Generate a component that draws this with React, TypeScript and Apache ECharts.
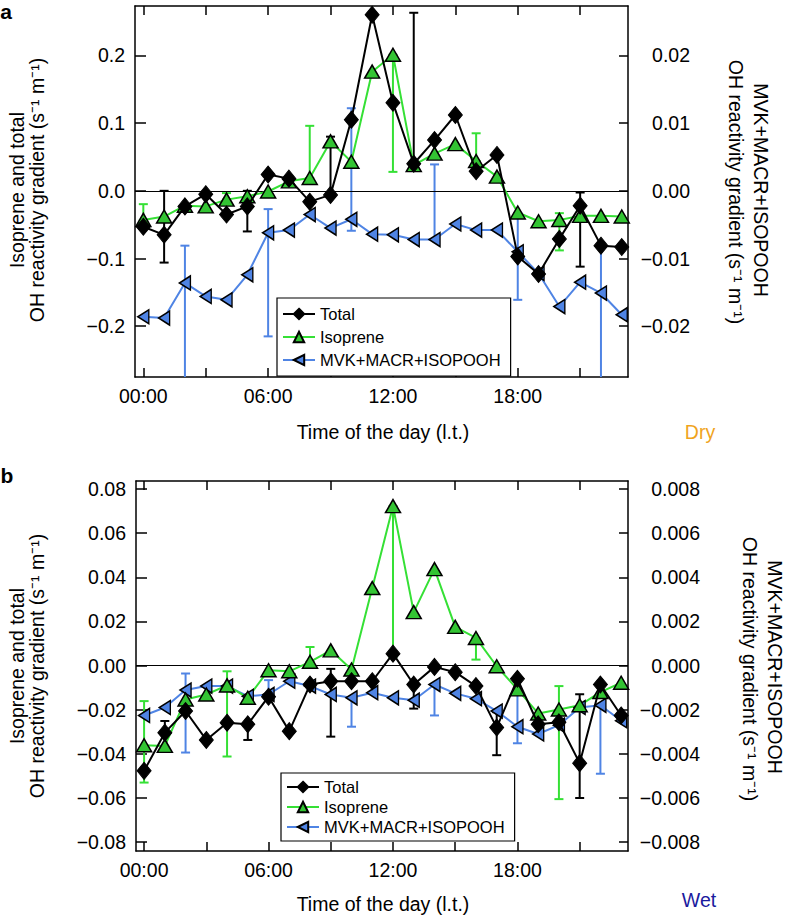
import React, { useEffect, useRef } from "react";
import * as echarts from "echarts";

// ---------- data ----------
const HOURS = [0, 1, 2, 3, 4, 5, 6, 7, 8, 9, 10, 11, 12, 13, 14, 15, 16, 17, 18, 19, 20, 21, 22, 23];
const HOUR_TICKS = [0, 3, 6, 9, 12, 15, 18, 21];
const HOUR_LABELS = [0, 6, 12, 18];

// Panel a (dry)
const A_TOTAL = [-0.053, -0.065, -0.023, -0.005, -0.035, -0.023, 0.024, 0.018, -0.016, -0.006, 0.105, 0.26, 0.13, 0.04, 0.075, 0.112, 0.029, 0.053, -0.097, -0.123, -0.071, -0.022, -0.081, -0.083];
const A_ISOPRENE = [-0.043, -0.038, -0.022, -0.023, -0.013, -0.008, -0.001, 0.014, 0.019, 0.073, 0.043, 0.176, 0.201, 0.038, 0.055, 0.069, 0.044, 0.021, -0.032, -0.045, -0.043, -0.037, -0.037, -0.038];
const A_MVK = [-0.0186, -0.0188, -0.0136, -0.0156, -0.0161, -0.0124, -0.0062, -0.0058, -0.0035, -0.0055, -0.0042, -0.0064, -0.0065, -0.0072, -0.0072, -0.0049, -0.0058, -0.0058, -0.009, -0.0122, -0.0171, -0.0135, -0.0151, -0.0183];
const A_TOTAL_ERR = [[1, -0.106, 0.0], [5, -0.06, 0.0], [9, -0.006, 0.08], [13, 0.04, 0.263], [21, -0.112, -0.0025]];
const A_ISOPRENE_ERR = [[0, -0.043, -0.0197], [4, -0.013, -0.0034], [8, 0.019, 0.096], [12, 0.028, 0.201], [16, 0.044, 0.085], [20, -0.088, -0.033]];
const A_MVK_ERR = [[2, -0.03, -0.0081], [6, -0.0215, -0.0027], [10, -0.0059, 0.0122], [14, -0.0072, 0.0039], [18, -0.0161, -0.0033], [22, -0.03, -0.0084]];
const A_LEFT_TICKS = [-0.2, -0.1, 0, 0.1, 0.2];
const A_RIGHT_TICKS = [-0.02, -0.01, 0, 0.01, 0.02];

// Panel b (wet)
const B_TOTAL = [-0.0477, -0.0304, -0.0206, -0.0337, -0.0259, -0.0266, -0.0141, -0.0297, -0.0086, -0.0071, -0.0071, -0.0071, 0.0054, -0.0086, -0.0006, -0.003, -0.0093, -0.0281, -0.006, -0.0266, -0.0257, -0.0442, -0.0086, -0.0226];
const B_ISOPRENE = [-0.0361, -0.0364, -0.0154, -0.0131, -0.009, -0.0146, -0.0021, -0.0026, 0.0017, 0.0069, -0.0018, 0.0351, 0.0722, 0.0242, 0.0437, 0.0175, 0.0125, -0.0003, -0.0108, -0.0217, -0.0199, -0.018, -0.012, -0.0078];
const B_MVK = [-0.00226, -0.0019, -0.00111, -0.00093, -0.00093, -0.00139, -0.00131, -0.00071, -0.00093, -0.00131, -0.00146, -0.00123, -0.00146, -0.00157, -0.00086, -0.00126, -0.0015, -0.00206, -0.00277, -0.0031, -0.0027, -0.0019, -0.0018, -0.0025];
const B_TOTAL_ERR = [[1, -0.0304, -0.0251], [5, -0.0337, -0.0266], [9, -0.0322, -0.0015], [13, -0.0195, -0.0086], [17, -0.0406, -0.0211], [21, -0.06, -0.013]];
const B_ISOPRENE_ERR = [[0, -0.053, -0.0161], [4, -0.0412, -0.0026], [8, 0.0017, 0.0084], [12, 0.004, 0.0722], [16, 0.0027, 0.0125], [20, -0.0605, -0.0093]];
const B_MVK_ERR = [[2, -0.00394, -0.00036], [6, -0.00131, -0.00066], [10, -0.00277, -0.00146], [14, -0.00226, -0.00086], [18, -0.00352, -0.00105], [22, -0.0049, -0.0018]];
const B_LEFT_TICKS = [-0.08, -0.06, -0.04, -0.02, 0, 0.02, 0.04, 0.06, 0.08];
const B_RIGHT_TICKS = [-0.008, -0.006, -0.004, -0.002, 0, 0.002, 0.004, 0.006, 0.008];

const SERIES_NAMES = ["Total", "Isoprene", "MVK+MACR+ISOPOOH"];

// ---------- styles ----------
const FONT = "'Liberation Sans', Arial, Helvetica, sans-serif";
const FS = 19.5;
const BLACK = "#000000";
const GREEN_LINE = "#35e035";
const GREEN_FILL = "#33c433";
const BLUE = "#4f84e4";
const LEFT_TRI = "path://M0,5L9,0L9,10Z";

const pairs = (vals: number[]) => HOURS.map((h, i) => [h, vals[i]]);
const minus = (s: string) => s.replace("-", "\u2212");

function errSeries(data: number[][], color: string, xi: number, yi: number, lo: number, hi: number) {
  return {
    type: "custom",
    xAxisIndex: xi,
    yAxisIndex: yi,
    z: 1,
    silent: true,
    data,
    encode: { x: 0, y: [1, 2] },
    renderItem: (_p: any, api: any) => {
      const x = api.value(0);
      let a = api.value(1);
      let b = api.value(2);
      const aClip = a < lo;
      const bClip = b > hi;
      a = Math.max(a, lo);
      b = Math.min(b, hi);
      const p1 = api.coord([x, a]);
      const p2 = api.coord([x, b]);
      const w = 4.5;
      const st = { stroke: color, lineWidth: 2 };
      const children: any[] = [
        { type: "line", shape: { x1: p1[0], y1: p1[1], x2: p2[0], y2: p2[1] }, style: st },
      ];
      if (!aClip) children.push({ type: "line", shape: { x1: p1[0] - w, y1: p1[1], x2: p1[0] + w, y2: p1[1] }, style: st });
      if (!bClip) children.push({ type: "line", shape: { x1: p2[0] - w, y1: p2[1], x2: p2[0] + w, y2: p2[1] }, style: st });
      return { type: "group", children };
    },
  };
}

function lineSeries(name: string, vals: number[], xi: number, yi: number, withZero: boolean) {
  const base: any = {
    type: "line",
    name,
    xAxisIndex: xi,
    yAxisIndex: yi,
    data: pairs(vals),
    showAllSymbol: true,
    z: 3,
  };
  if (name === "Total") {
    base.symbol = "diamond";
    base.symbolSize = [14, 17];
    base.itemStyle = { color: BLACK, borderColor: BLACK, borderWidth: 1 };
    base.lineStyle = { color: BLACK, width: 2 };
    base.z = 4;
  } else if (name === "Isoprene") {
    base.symbol = "triangle";
    base.symbolSize = [15, 13];
    base.itemStyle = { color: GREEN_FILL, borderColor: BLACK, borderWidth: 1.5 };
    base.lineStyle = { color: GREEN_LINE, width: 2 };
  } else {
    base.symbol = LEFT_TRI;
    base.symbolSize = [11, 14];
    base.itemStyle = { color: BLUE, borderColor: BLACK, borderWidth: 1.5 };
    base.lineStyle = { color: BLUE, width: 2 };
  }
  if (withZero) {
    base.markLine = {
      silent: true,
      symbol: ["none", "none"],
      label: { show: false },
      lineStyle: { color: BLACK, width: 1.2, type: "solid" },
      data: [{ yAxis: 0 }],
      z: 2,
    };
  }
  return base;
}

const axisLine = { show: true, onZero: false, lineStyle: { color: BLACK, width: 1.5 } };
const tickStyle = { color: BLACK, width: 1.5 };
const hourFmt = (v: number) => String(Math.round(v)).padStart(2, "0") + ":00";

function xAxes(gridIndex: number, min: number, max: number) {
  return [
    {
      type: "value",
      gridIndex,
      position: "bottom",
      min,
      max,
      axisLine,
      splitLine: { show: false },
      axisTick: { show: true, inside: true, length: 9, customValues: HOUR_TICKS, lineStyle: tickStyle },
      axisLabel: { show: true, customValues: HOUR_LABELS, formatter: hourFmt, fontSize: FS, fontFamily: FONT, color: BLACK, margin: 9 },
    },
    {
      type: "value",
      gridIndex,
      position: "top",
      min,
      max,
      axisLine,
      splitLine: { show: false },
      axisTick: { show: true, inside: true, length: 9, customValues: HOUR_TICKS, lineStyle: tickStyle },
      axisLabel: { show: false },
    },
  ];
}

function yAxes(gridIndex: number, min: number, max: number, ticks: number[], rticks: number[], dec: number, rdec: number, rmargin: number) {
  return [
    {
      type: "value",
      gridIndex,
      position: "left",
      min,
      max,
      axisLine,
      splitLine: { show: false },
      axisTick: { show: true, inside: true, length: 11, customValues: ticks, lineStyle: tickStyle },
      axisLabel: {
        customValues: ticks,
        formatter: (v: number) => minus(v.toFixed(dec)),
        fontSize: FS,
        fontFamily: FONT,
        color: BLACK,
        margin: 10,
      },
    },
    {
      type: "value",
      gridIndex,
      position: "right",
      min: min / 10,
      max: max / 10,
      axisLine,
      splitLine: { show: false },
      axisTick: { show: true, inside: true, length: 9, customValues: rticks, lineStyle: tickStyle },
      axisLabel: {
        customValues: rticks,
        formatter: (v: number) => minus(v.toFixed(rdec)),
        fontSize: FS,
        fontFamily: FONT,
        color: BLACK,
        align: "right",
        margin: rmargin,
      },
    },
  ];
}

function txt(x: number, y: number, text: string, opts: any = {}) {
  return {
    type: "text",
    x,
    y,
    rotation: opts.rotation || 0,
    silent: true,
    style: {
      text,
      fill: opts.fill || BLACK,
      font: opts.font || `${FS}px ${FONT}`,
      textAlign: "center",
      textVerticalAlign: "middle",
    },
  };
}

const legendBase = {
  orient: "vertical",
  data: SERIES_NAMES,
  itemWidth: 32,
  itemHeight: 13,
  borderColor: BLACK,
  borderWidth: 1.2,
  borderRadius: 0,
  backgroundColor: "#ffffff",
  selectedMode: false,
  textStyle: { fontSize: 16.5, fontFamily: FONT, color: BLACK, lineHeight: 18 },
};

const A_MIN = -0.275;
const A_MAX = 0.273;
const B_MIN = -0.084;
const B_MAX = 0.0836;

export default function App() {
  const ref = useRef<HTMLDivElement>(null);
  useEffect(() => {
    if (!ref.current) return;
    const chart = echarts.init(ref.current, undefined, { renderer: "svg" });
    const SUP = "\u207B\u00B9";
    const option: any = {
      animation: false,
      backgroundColor: "#ffffff",
      grid: [
        { left: 135, top: 6, width: 493, height: 371 },
        { left: 136, top: 481, width: 492, height: 370 },
      ],
      xAxis: [...xAxes(0, -0.4, 23.3), ...xAxes(1, -0.39, 23.33)],
      yAxis: [
        ...yAxes(0, A_MIN, A_MAX, A_LEFT_TICKS, A_RIGHT_TICKS, 1, 2, 62),
        ...yAxes(1, B_MIN, B_MAX, B_LEFT_TICKS, B_RIGHT_TICKS, 2, 3, 72),
      ],
      legend: [
        { ...legendBase, left: 277, top: 298, padding: [7, 10, 7, 5], itemGap: 5 },
        { ...legendBase, left: 281, top: 773, padding: [5, 10, 5, 5], itemGap: 2 },
      ],
      series: [
        errSeries(A_MVK_ERR, BLUE, 0, 1, A_MIN / 10, A_MAX / 10),
        errSeries(A_ISOPRENE_ERR, GREEN_LINE, 0, 0, A_MIN, A_MAX),
        errSeries(A_TOTAL_ERR, BLACK, 0, 0, A_MIN, A_MAX),
        lineSeries(SERIES_NAMES[2], A_MVK, 0, 1, false),
        lineSeries(SERIES_NAMES[1], A_ISOPRENE, 0, 0, false),
        lineSeries(SERIES_NAMES[0], A_TOTAL, 0, 0, true),
        errSeries(B_MVK_ERR, BLUE, 2, 3, B_MIN / 10, B_MAX / 10),
        errSeries(B_ISOPRENE_ERR, GREEN_LINE, 2, 2, B_MIN, B_MAX),
        errSeries(B_TOTAL_ERR, BLACK, 2, 2, B_MIN, B_MAX),
        lineSeries(SERIES_NAMES[2], B_MVK, 2, 3, false),
        lineSeries(SERIES_NAMES[1], B_ISOPRENE, 2, 2, false),
        lineSeries(SERIES_NAMES[0], B_TOTAL, 2, 2, true),
      ],
      graphic: [
        txt(6, 11, "a", { font: `bold 21px ${FONT}` }),
        txt(7, 475, "b", { font: `bold 21px ${FONT}` }),
        txt(17, 190, "Isoprene and total", { rotation: Math.PI / 2 }),
        txt(37, 190, `OH reactivity gradient (s${SUP} m${SUP})`, { rotation: Math.PI / 2 }),
        txt(761, 190, "MVK+MACR+ISOPOOH", { rotation: -Math.PI / 2 }),
        txt(736, 192, `OH reactivity gradient (s${SUP} m${SUP})`, { rotation: -Math.PI / 2 }),
        txt(17, 666, "Isoprene and total", { rotation: Math.PI / 2 }),
        txt(37, 666, `OH reactivity gradient (s${SUP} m${SUP})`, { rotation: Math.PI / 2 }),
        txt(775, 667, "MVK+MACR+ISOPOOH", { rotation: -Math.PI / 2 }),
        txt(750, 669, `OH reactivity gradient (s${SUP} m${SUP})`, { rotation: -Math.PI / 2 }),
        txt(383, 432, "Time of the day (l.t.)"),
        txt(383, 904, "Time of the day (l.t.)"),
        txt(700, 432, "Dry", { fill: "#f0a41c" }),
        txt(699, 900, "Wet", { fill: "#1a1a9e" }),
      ],
    };
    chart.setOption(option);
    return () => chart.dispose();
  }, []);
  return <div ref={ref} style={{ width: 786, height: 918, position: "absolute", left: 0, top: 0 }} />;
}
